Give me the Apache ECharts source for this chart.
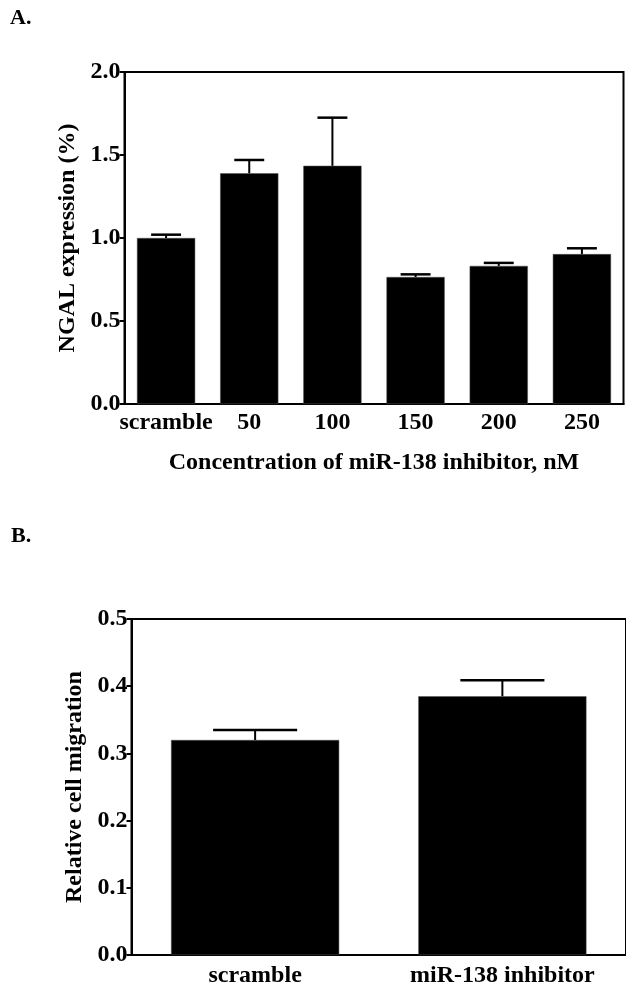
<!DOCTYPE html>
<html>
<head>
<meta charset="utf-8">
<script src="https://cdn.jsdelivr.net/npm/echarts@6/dist/echarts.min.js"></script>
<style>
html,body{margin:0;padding:0;background:#fff;}
#chart{width:626px;height:989px;}
</style>
</head>
<body>
<div id="chart"></div>
<script>
// Panel A data
const catsA = ['scramble', '50', '100', '150', '200', '250'];
const meanA = [1.00, 1.39, 1.435, 0.765, 0.832, 0.903];
const semA  = [0.02, 0.08, 0.29, 0.016, 0.018, 0.035];
const yMinA = 0, yMaxA = 2.0, yStepA = 0.5;

// Panel B data
const catsB = ['scramble', 'miR-138 inhibitor'];
const meanB = [0.32, 0.385];
const semB  = [0.015, 0.024];
const yMinB = 0, yMaxB = 0.5, yStepB = 0.1;

const FONT = '"Liberation Serif", "Times New Roman", serif';
const txt = {fontFamily: FONT, fontWeight: 'bold', fontSize: 24, color: '#000'};

function errRender(capFrac) {
  return function (params, api) {
    const x = api.value(0), m = api.value(1), e = api.value(2);
    const base = api.coord([x, m]);
    const top = api.coord([x, m + e]);
    const band = api.size([1, 0])[0];
    const hw = band * capFrac / 2;
    return {
      type: 'group',
      children: [
        {type: 'line', shape: {x1: base[0], y1: base[1], x2: top[0], y2: top[1]},
         style: {stroke: '#000', lineWidth: 2}},
        {type: 'line', shape: {x1: top[0] - hw, y1: top[1], x2: top[0] + hw, y2: top[1]},
         style: {stroke: '#000', lineWidth: 2.5}}
      ]
    };
  };
}

function yAxisCfg(gridIndex, min, max, step, name, gap) {
  return {
    type: 'value', gridIndex, min, max, interval: step,
    name, nameLocation: 'middle', nameGap: gap, nameRotate: 90,
    nameTextStyle: txt,
    axisLine: {show: true, lineStyle: {color: '#000', width: 2}},
    axisTick: {show: true, length: 5, lineStyle: {color: '#000', width: 2}},
    axisLabel: Object.assign({margin: 4, formatter: v => v.toFixed(1)}, txt),
    splitLine: {show: false}
  };
}

const chart = echarts.init(document.getElementById('chart'), null, {renderer: 'canvas'});
chart.setOption({
  backgroundColor: '#fff',
  animation: false,
  graphic: [
    {type: 'text', left: 10, top: 7, style: {text: 'A.', font: 'bold 22px ' + FONT, fill: '#000'}},
    {type: 'text', left: 11, top: 525, style: {text: 'B.', font: 'bold 22px ' + FONT, fill: '#000'}}
  ],
  grid: [
    {left: 124.5, top: 72, width: 499, height: 332, show: true, borderColor: '#000', borderWidth: 2, backgroundColor: 'transparent'},
    {left: 131.5, top: 619, width: 496, height: 336, show: true, borderColor: '#000', borderWidth: 2, backgroundColor: 'transparent'}
  ],
  xAxis: [
    {type: 'category', gridIndex: 0, data: catsA,
     name: 'Concentration of miR-138 inhibitor, nM', nameLocation: 'middle', nameGap: 47,
     nameTextStyle: txt,
     axisLine: {lineStyle: {color: '#000', width: 2}}, axisTick: {show: false},
     axisLabel: Object.assign({margin: 7, interval: 0}, txt)},
    {type: 'category', gridIndex: 1, data: catsB,
     axisLine: {lineStyle: {color: '#000', width: 2}}, axisTick: {show: false},
     axisLabel: Object.assign({margin: 9, interval: 0}, txt)}
  ],
  yAxis: [
    yAxisCfg(0, yMinA, yMaxA, yStepA, 'NGAL expression (%)', 36),
    yAxisCfg(1, yMinB, yMaxB, yStepB, 'Relative cell migration', 44)
  ],
  series: [
    {type: 'bar', xAxisIndex: 0, yAxisIndex: 0, data: meanA, barWidth: '70%',
     itemStyle: {color: '#000', borderColor: '#555', borderWidth: 0.5}, z: 2},
    {type: 'custom', xAxisIndex: 0, yAxisIndex: 0, renderItem: errRender(0.36),
     data: catsA.map((c, i) => [i, meanA[i], semA[i]]), z: 3},
    {type: 'bar', xAxisIndex: 1, yAxisIndex: 1, data: meanB, barWidth: '68%',
     itemStyle: {color: '#000', borderColor: '#555', borderWidth: 0.5}, z: 2},
    {type: 'custom', xAxisIndex: 1, yAxisIndex: 1, renderItem: errRender(0.34),
     data: catsB.map((c, i) => [i, meanB[i], semB[i]]), z: 3}
  ]
});
</script>
</body>
</html>
